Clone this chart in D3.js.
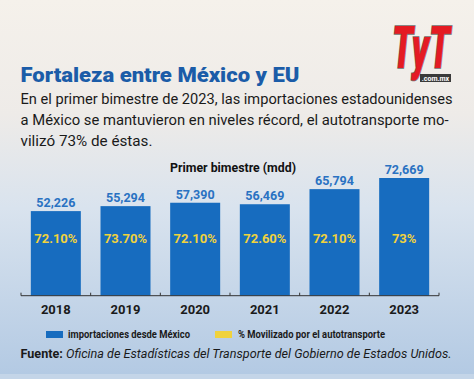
<!DOCTYPE html>
<html>
<head>
<meta charset="utf-8">
<script src="https://cdn.jsdelivr.net/npm/d3@7"></script>
<style>
  body { margin: 0; padding: 0; }
  svg { display: block; }
</style>
</head>
<body>
<div id="container"></div>
<script>
const years = ['2018', '2019', '2020', '2021', '2022', '2023'];
const imports = [52226, 55294, 57390, 56469, 65794, 72669];
const pctLabels = ['72.10%', '73.70%', '72.10%', '72.60%', '72.10%', '73%'];
const legendLabels = ['importaciones desde México', '% Movilizado por el autotransporte'];
const bodyLines = [
  'En el primer bimestre de 2023, las importaciones estadounidenses',
  'a México se mantuvieron en niveles récord, el autotransporte mo-',
  'vilizó 73% de éstas.'
];

const width = 474;
const height = 379;
const blue = '#176cbf';
const yellow = '#f0d23c';

const svg = d3.select('#container')
  .append('svg')
  .attr('width', width)
  .attr('height', height);

// background
const defs = svg.append('defs');
const grad = defs.append('linearGradient')
  .attr('id', 'bg')
  .attr('x1', 0).attr('y1', 0).attr('x2', 0).attr('y2', 1);
grad.append('stop').attr('offset', '0%').attr('stop-color', '#f5f1eb');
grad.append('stop').attr('offset', '30%').attr('stop-color', '#eeebe8');
grad.append('stop').attr('offset', '55%').attr('stop-color', '#d9e3ee');
grad.append('stop').attr('offset', '100%').attr('stop-color', '#b2c9e3');

svg.append('rect')
  .attr('width', width)
  .attr('height', height)
  .attr('fill', 'url(#bg)');

svg.append('rect')
  .attr('y', 374)
  .attr('width', width)
  .attr('height', 5)
  .attr('fill', '#c4d5e8');

// logo
const logo = svg.append('g').attr('transform', 'translate(421,68) scale(1,1.4)');
logo.append('text')
  .attr('x', 0).attr('y', 0)
  .attr('text-anchor', 'middle')
  .attr('font-family', 'Roboto, sans-serif')
  .attr('font-weight', 900)
  .attr('font-style', 'italic')
  .attr('font-size', 42)
  .attr('fill', '#e41b23')
  .attr('stroke', '#6f6f6f')
  .attr('stroke-width', 1.2)
  .attr('paint-order', 'stroke')
  .attr('textLength', 58)
  .attr('lengthAdjust', 'spacingAndGlyphs')
  .text('TyT');
svg.append('rect')
  .attr('x', 420).attr('y', 74)
  .attr('width', 31).attr('height', 8)
  .attr('fill', '#3a3a3a');
svg.append('text')
  .attr('x', 435.5).attr('y', 80.5)
  .attr('text-anchor', 'middle')
  .attr('font-family', 'Roboto, sans-serif')
  .attr('font-weight', 700)
  .attr('font-size', 7)
  .attr('fill', '#fff')
  .text('.com.mx');

// title
svg.append('text')
  .attr('x', 20.5).attr('y', 82)
  .attr('font-family', 'Roboto, sans-serif')
  .attr('font-weight', 900)
  .attr('font-size', 21)
  .attr('fill', '#1b5ca8')
  .attr('textLength', 279)
  .attr('lengthAdjust', 'spacingAndGlyphs')
  .text('Fortaleza entre México y EU');

const bodyWidths = [432, 428, 132];
svg.append('g')
  .selectAll('text')
  .data(bodyLines)
  .join('text')
    .attr('x', 20.5)
    .attr('y', (d, i) => 104 + i * 20.8)
    .attr('font-family', 'Roboto, sans-serif')
    .attr('font-size', 14.5)
    .attr('fill', '#1a1a1a')
    .attr('textLength', (d, i) => bodyWidths[i])
    .attr('lengthAdjust', 'spacingAndGlyphs')
    .text(d => d);

// chart subtitle
svg.append('text')
  .attr('x', 233).attr('y', 172)
  .attr('text-anchor', 'middle')
  .attr('font-family', 'Roboto, sans-serif')
  .attr('font-weight', 700)
  .attr('font-size', 13.5)
  .attr('fill', '#111')
  .attr('textLength', 126)
  .attr('lengthAdjust', 'spacingAndGlyphs')
  .text('Primer bimestre (mdd)');

// scales
const x = d3.scaleBand()
  .domain(years)
  .range([21, 439])
  .padding(0);

const y = d3.scaleLinear()
  .domain([0, 72669])
  .range([295.7, 178]);

const barW = 50;

svg.append('g')
  .selectAll('rect')
  .data(imports)
  .join('rect')
    .attr('x', (d, i) => x(years[i]) + (x.bandwidth() - barW) / 2)
    .attr('y', d => y(d))
    .attr('width', barW)
    .attr('height', d => y(0) - y(d))
    .attr('fill', blue);

// value labels
svg.append('g')
  .selectAll('text')
  .data(imports)
  .join('text')
    .attr('x', (d, i) => x(years[i]) + x.bandwidth() / 2)
    .attr('y', d => y(d) - 4)
    .attr('text-anchor', 'middle')
    .attr('font-family', 'Roboto, sans-serif')
    .attr('font-weight', 700)
    .attr('font-size', 13.5)
    .attr('fill', '#2a72c2')
    .attr('textLength', 39)
    .attr('lengthAdjust', 'spacingAndGlyphs')
    .text(d => d3.format(',')(d));

// percent labels
svg.append('g')
  .selectAll('text')
  .data(pctLabels)
  .join('text')
    .attr('x', (d, i) => x(years[i]) + x.bandwidth() / 2)
    .attr('y', 243)
    .attr('text-anchor', 'middle')
    .attr('font-family', 'Roboto, sans-serif')
    .attr('font-weight', 700)
    .attr('font-size', 13)
    .attr('fill', yellow)
    .text(d => d);

// x axis with ticks at band edges
const axisG = svg.append('g')
  .attr('transform', `translate(0,${y(0)})`)
  .call(d3.axisBottom(x).tickSize(0).tickFormat(''));
axisG.select('.domain').remove();
axisG.append('line')
  .attr('x1', 21).attr('x2', 439)
  .attr('stroke', '#333').attr('stroke-width', 1);
axisG.selectAll('.edge')
  .data(years.concat(['end']))
  .join('line')
    .attr('class', 'edge')
    .attr('x1', (d, i) => i < years.length ? x(d) : x(years[years.length - 1]) + x.bandwidth())
    .attr('x2', (d, i) => i < years.length ? x(d) : x(years[years.length - 1]) + x.bandwidth())
    .attr('y1', -3).attr('y2', 0)
    .attr('stroke', '#333');

svg.append('g')
  .selectAll('text')
  .data(years)
  .join('text')
    .attr('x', d => x(d) + x.bandwidth() / 2)
    .attr('y', 314)
    .attr('text-anchor', 'middle')
    .attr('font-family', 'Roboto, sans-serif')
    .attr('font-weight', 700)
    .attr('font-size', 13)
    .attr('fill', '#1a1a1a')
    .text(d => d);

// legend
const legendX = [46, 215];
const legendColors = [blue, yellow];
const legendW = [122, 147];
const legend = svg.append('g')
  .selectAll('g')
  .data(legendLabels)
  .join('g')
    .attr('transform', (d, i) => `translate(${legendX[i]},331)`);
legend.append('rect')
  .attr('width', 17).attr('height', 7)
  .attr('fill', (d, i) => legendColors[i]);
legend.append('text')
  .attr('x', (d, i) => i === 0 ? 22 : 23)
  .attr('y', 7)
  .attr('font-family', 'Roboto, sans-serif')
  .attr('font-weight', 700)
  .attr('font-size', 10)
  .attr('fill', '#1a1a1a')
  .attr('textLength', (d, i) => legendW[i])
  .attr('lengthAdjust', 'spacingAndGlyphs')
  .text(d => d);

// source
const src = svg.append('text')
  .attr('x', 20.5).attr('y', 357.5)
  .attr('font-family', 'Roboto, sans-serif')
  .attr('font-size', 12.5)
  .attr('fill', '#1a1a1a')
  .attr('textLength', 431)
  .attr('lengthAdjust', 'spacingAndGlyphs');
src.append('tspan').attr('font-weight', 700).text('Fuente: ');
src.append('tspan').attr('font-style', 'italic').text('Oficina de Estadísticas del Transporte del Gobierno de Estados Unidos.');
</script>
</body>
</html>
